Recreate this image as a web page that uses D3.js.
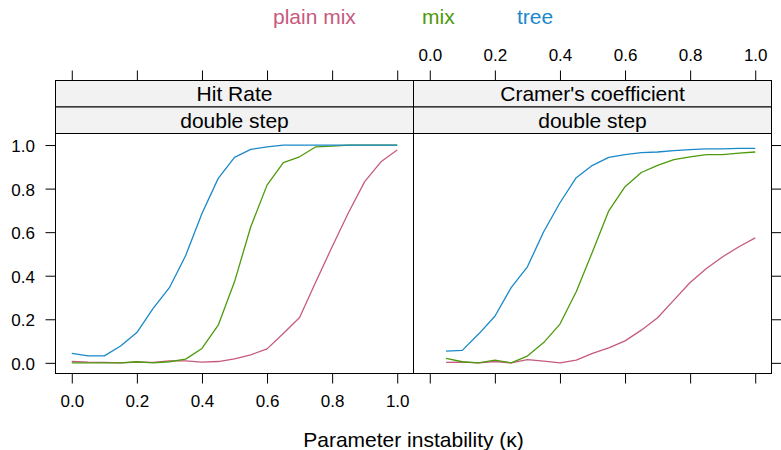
<!DOCTYPE html>
<html>
<head>
<meta charset="utf-8">
<script src="https://cdn.jsdelivr.net/npm/d3@7/dist/d3.min.js"></script>
<style>
  html, body { margin: 0; padding: 0; background: #fff; }
  svg { display: block; font-family: "Liberation Sans", Arial, sans-serif; }
</style>
</head>
<body>
<svg id="chart" width="781" height="450"></svg>
<script>
// Parameter instability grid (kappa)
const kappa = [0.00, 0.05, 0.10, 0.15, 0.20, 0.25, 0.30, 0.35, 0.40, 0.45, 0.50,
               0.55, 0.60, 0.65, 0.70, 0.75, 0.80, 0.85, 0.90, 0.95, 1.00];
// Cramer's coefficient is only reported from kappa = 0.05 onward
const kappaCramer = kappa.slice(1);

const seriesNames = ["plain mix", "mix", "tree"];
const seriesColors = ["#C65A7E", "#4D9A0C", "#1A88C9"];

const panelTitles = ["Hit Rate", "Cramer's coefficient"];
const panelSubtitle = "double step";

// Hit rate, double step
const hitPlainMix = [0.006, 0.003, 0.002, 0.000, 0.003, 0.002, 0.009, 0.009, 0.003, 0.006, 0.018,
                     0.037, 0.064, 0.135, 0.208, 0.372, 0.533, 0.689, 0.832, 0.923, 0.977];
const hitMix      = [0.000, 0.000, 0.000, 0.000, 0.005, 0.000, 0.005, 0.017, 0.066, 0.173, 0.372,
                     0.625, 0.816, 0.919, 0.946, 0.992, 0.995, 1.000, 1.000, 1.000, 1.000];
const hitTree     = [0.043, 0.032, 0.032, 0.077, 0.139, 0.250, 0.345, 0.493, 0.686, 0.847, 0.943,
                     0.980, 0.992, 1.000, 1.000, 1.000, 1.000, 1.000, 1.000, 1.000, 1.000];

// Cramer's coefficient, double step
const cramerPlainMix = [0.002, 0.003, 0.000, 0.006, 0.000, 0.015, 0.008, 0.000, 0.012, 0.043,
                        0.069, 0.101, 0.150, 0.207, 0.288, 0.369, 0.433, 0.487, 0.533, 0.574];
const cramerMix      = [0.020, 0.005, 0.000, 0.012, 0.000, 0.031, 0.093, 0.178, 0.326, 0.510,
                        0.698, 0.809, 0.874, 0.907, 0.933, 0.946, 0.956, 0.956, 0.963, 0.968];
const cramerTree     = [0.054, 0.057, 0.132, 0.214, 0.345, 0.441, 0.602, 0.735, 0.850, 0.907,
                        0.943, 0.956, 0.965, 0.968, 0.974, 0.979, 0.982, 0.982, 0.985, 0.985];

const tickValues = [0, 0.2, 0.4, 0.6, 0.8, 1.0];
const xTitle = "Parameter instability (\u03BA)";

const panels = [
  { title: panelTitles[0], x: kappa,       series: [hitPlainMix, hitMix, hitTree] },
  { title: panelTitles[1], x: kappaCramer, series: [cramerPlainMix, cramerMix, cramerTree] }
];

// Layout
const svg = d3.select("#chart");
const panelW = 358, panelTop = 133.5, panelBottom = 373.5;
const stripH = 26.5, stripTop = 80.5;
const leftEdge = 55.5;
const tickFont = 17, labelFont = 21;
const fmt = d3.format(".1f");

const y = d3.scaleLinear().domain([-0.049, 1.053]).range([panelBottom, panelTop]);

const line = (xs) => d3.line()
  .x((d, i) => d.xs(xs[i]))
  .y(d => y(d.v));

panels.forEach((p, k) => {
  const x0 = leftEdge + k * panelW;
  const x = d3.scaleLinear().domain([-0.05, 1.05]).range([x0, x0 + panelW]);
  const g = svg.append("g");

  // panel background / border
  g.append("rect")
    .attr("x", x0).attr("y", panelTop)
    .attr("width", panelW).attr("height", panelBottom - panelTop)
    .attr("fill", "#fff").attr("stroke", "#000").attr("stroke-width", 1);

  // strips
  [p.title, panelSubtitle].forEach((label, s) => {
    const sy = stripTop + s * stripH;
    g.append("rect")
      .attr("x", x0).attr("y", sy)
      .attr("width", panelW).attr("height", stripH)
      .attr("fill", "#F2F2F2").attr("stroke", "#000").attr("stroke-width", 1);
    g.append("text")
      .attr("x", x0 + panelW / 2).attr("y", sy + 20.5)
      .attr("text-anchor", "middle")
      .attr("font-size", labelFont).attr("fill", "#000")
      .text(label);
  });

  // series lines
  p.series.forEach((vals, j) => {
    const pts = vals.map((v, i) => ({ xv: p.x[i], v }));
    g.append("path")
      .datum(pts)
      .attr("fill", "none")
      .attr("stroke", seriesColors[j])
      .attr("stroke-width", 1.3)
      .attr("stroke-linejoin", "round")
      .attr("d", d3.line().x(d => x(d.xv)).y(d => y(d.v)));
  });

  // bottom axis (labels only on the left panel)
  const bottom = d3.axisBottom(x).tickValues(tickValues).tickSize(10).tickSizeOuter(0)
    .tickPadding(11).tickFormat(k === 0 ? fmt : () => "");
  const gb = svg.append("g").attr("transform", `translate(0,${panelBottom})`).call(bottom);

  // top axis (labels only on the right panel)
  const top = d3.axisTop(x).tickValues(tickValues).tickSize(10).tickSizeOuter(0)
    .tickPadding(10).tickFormat(k === 1 ? fmt : () => "");
  const gt = svg.append("g").attr("transform", `translate(0,${stripTop})`).call(top);

  [gb, gt].forEach(ax => {
    ax.select(".domain").remove();
    ax.attr("font-family", null).attr("font-size", tickFont);
    ax.selectAll("line").attr("stroke", "#000");
    ax.selectAll("text").attr("fill", "#000");
  });

  if (k === 0) {
    const left = d3.axisLeft(y).tickValues(tickValues).tickSize(10).tickSizeOuter(0)
      .tickPadding(10.5).tickFormat(fmt);
    const gl = svg.append("g").attr("transform", `translate(${x0},0)`).call(left);
    gl.select(".domain").remove();
    gl.attr("font-family", null).attr("font-size", tickFont);
    gl.selectAll("line").attr("stroke", "#000");
    gl.selectAll("text").attr("fill", "#000").attr("dy", "0.39em");
  } else {
    const right = d3.axisRight(y).tickValues(tickValues).tickSize(10).tickSizeOuter(0)
      .tickFormat(() => "");
    const gr = svg.append("g").attr("transform", `translate(${x0 + panelW},0)`).call(right);
    gr.select(".domain").remove();
    gr.selectAll("line").attr("stroke", "#000");
  }
});

// legend (text-only key above the panels)
const legendX = [273, 422, 517];
seriesNames.forEach((name, j) => {
  svg.append("text")
    .attr("x", legendX[j]).attr("y", 24)
    .attr("font-size", labelFont)
    .attr("fill", seriesColors[j])
    .text(name);
});

// x axis title
svg.append("text")
  .attr("x", leftEdge + panelW).attr("y", 446.5)
  .attr("text-anchor", "middle")
  .attr("font-size", labelFont).attr("fill", "#000")
  .text(xTitle);
</script>
</body>
</html>
